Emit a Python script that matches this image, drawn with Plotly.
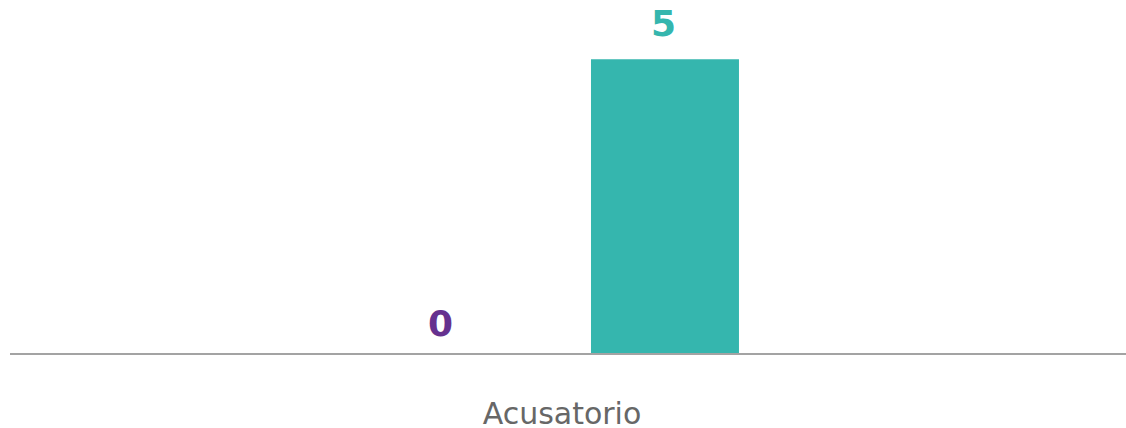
import plotly.graph_objects as go

categories = ["Acusatorio"]
series_names = ["Serie A", "Serie B"]
series_values = [[0], [5]]
series_colors = ["#66318f", "#35b6ae"]
value_labels = [["0"], ["5"]]

# style: bar placement (category units) and label nudges (px)
bar_offsets = [-0.1828, 0.026]
bar_widths = [0.1317, 0.1326]
label_yshift = [7, 13]
label_xshift = [9, -1]

fig = go.Figure()
for name, vals, col, off, w in zip(series_names, series_values, series_colors, bar_offsets, bar_widths):
    fig.add_trace(go.Bar(
        x=categories, y=vals, name=name,
        marker=dict(color=col, line=dict(width=0)),
        offset=off, width=w, showlegend=False, hoverinfo="skip",
    ))

annotations = []
for vals, labs, col, off, w, ys, xs in zip(series_values, value_labels, series_colors,
                                           bar_offsets, bar_widths, label_yshift, label_xshift):
    for i, (v, t) in enumerate(zip(vals, labs)):
        annotations.append(dict(
            x=i + off + w / 2, y=v, xref="x", yref="y", text=t,
            showarrow=False, yanchor="bottom", xanchor="center", yshift=ys, xshift=xs,
            font=dict(family="DejaVu Sans", size=36, color=col, weight=700),
        ))

fig.update_layout(
    width=1126, height=428,
    margin=dict(l=10, r=0, t=18, b=75),
    paper_bgcolor="white", plot_bgcolor="white",
    barmode="overlay",
    annotations=annotations,
    xaxis=dict(
        type="category", range=[-0.4946, 0.5054],
        showline=True, linecolor="#a3a3a3", linewidth=2,
        ticks="outside", ticklen=33, tickcolor="rgba(0,0,0,0)",
        tickfont=dict(family="DejaVu Sans", size=30, color="#676767"),
        showgrid=False, zeroline=False, automargin=False,
    ),
    yaxis=dict(range=[0, 5.7], visible=False, showgrid=False, zeroline=False),
)

fig.write_html("out.html",
               config={"displayModeBar": False, "staticPlot": True},
               post_script="document.body.style.margin='0';document.documentElement.style.overflow='hidden';")
